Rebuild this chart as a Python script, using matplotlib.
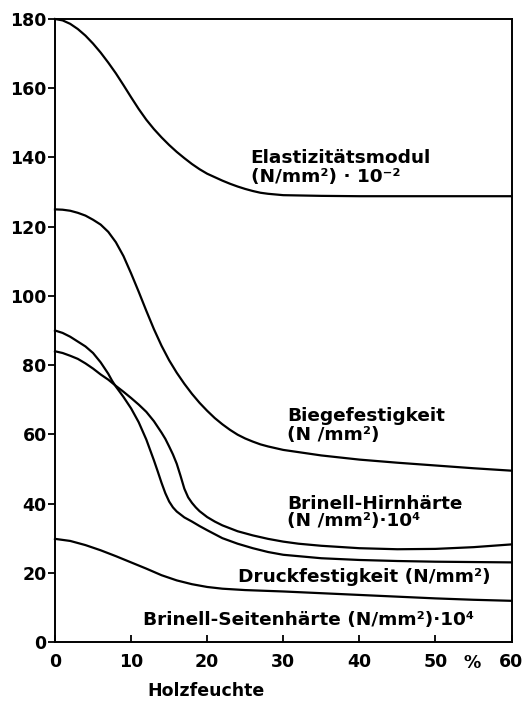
import matplotlib
matplotlib.use("Agg")
import matplotlib.pyplot as plt

# ---- data ----
elast_x = [0, 1, 2, 3, 4, 5, 6, 7, 8, 9, 10, 11, 12, 13, 14, 15, 16, 17, 18, 19, 20, 21, 22,
           23, 24, 25, 26, 27, 28, 30, 35, 40, 60]
elast_y = [180, 179.6, 178.6, 177.1, 175.2, 172.9, 170.3, 167.4, 164.3, 160.9, 157.4, 154,
           150.9, 148.2, 145.8, 143.6, 141.6, 139.8, 138.1, 136.6, 135.3, 134.3, 133.3,
           132.4, 131.6, 130.9, 130.3, 129.8, 129.5, 129.1, 128.9, 128.8, 128.8]

biege_x = [0, 1, 2, 3, 4, 5, 6, 7, 8, 9, 10, 11, 12, 13, 14, 15, 16, 17, 18, 19, 20, 21, 22,
           23, 24, 25, 26, 27, 28, 29, 30, 35, 40, 45, 50, 55, 60]
biege_y = [125, 124.9, 124.6, 124, 123.2, 122, 120.6, 118.5, 115.5, 111.5, 106.5, 101.2, 95.7,
           90.4, 85.6, 81.4, 77.8, 74.6, 71.7, 69.1, 66.8, 64.7, 62.9, 61.3, 59.9, 58.8, 57.9,
           57.1, 56.5, 56, 55.5, 53.9, 52.7, 51.8, 51, 50.2, 49.5]

hirn_x = [0, 1, 2, 3, 4, 5, 6, 7, 8, 9, 10, 11, 12, 13, 14, 14.5, 15, 15.5, 16, 16.5, 17,
          17.5, 18, 18.5, 19, 20, 21, 22, 24, 26, 28, 30, 32, 35, 40, 45, 50, 55, 60]
hirn_y = [84, 83.5, 82.7, 81.8, 80.5, 79, 77.3, 75.8, 74, 72.3, 70.5, 68.6, 66.5, 63.8, 60.5,
          58.7, 56.5, 54.2, 51.5, 48, 44.3, 41.8, 40.2, 38.9, 37.8, 36.1, 34.8, 33.7, 32,
          30.8, 29.8, 29, 28.4, 27.8, 27.1, 26.8, 26.9, 27.4, 28.2]

druck_x = [0, 1, 2, 3, 4, 5, 6, 7, 7.5, 8, 9, 10, 11, 12, 13, 13.5, 14, 14.5, 15, 15.5, 16,
           17, 18, 19, 20, 22, 24, 26, 28, 30, 35, 40, 45, 50, 55, 60]
druck_y = [90, 89.3, 88.2, 86.8, 85.4, 83.5, 80.8, 77.5, 75.5, 73.8, 70.8, 67.5, 63.5, 58.5,
           52.5, 49.3, 46, 43, 40.6, 38.9, 37.7, 36, 34.8, 33.5, 32.3, 30, 28.4, 27.1, 26,
           25.2, 24.2, 23.7, 23.4, 23.2, 23.1, 23]

seiten_x = [0, 2, 4, 6, 8, 10, 12, 14, 16, 18, 20, 22, 25, 30, 35, 40, 45, 50, 55, 60]
seiten_y = [29.8, 29.2, 28, 26.5, 24.8, 23, 21.2, 19.3, 17.8, 16.7, 15.9, 15.4, 15, 14.6,
            14.1, 13.6, 13.1, 12.6, 12.2, 11.9]

x_ticks = [0, 10, 20, 30, 40, 50, 60]
y_ticks = [0, 20, 40, 60, 80, 100, 120, 140, 160, 180]

fig = plt.figure(figsize=(5.28, 7.02), dpi=100)
ax = fig.add_axes([55 / 528, 1 - 642 / 702, 456.5 / 528, 623 / 702])

lw = 1.6
for xs, ys in [(elast_x, elast_y), (biege_x, biege_y), (hirn_x, hirn_y),
               (druck_x, druck_y), (seiten_x, seiten_y)]:
    ax.plot(xs, ys, color="black", lw=lw, solid_joinstyle="round", clip_on=False)

ax.set_xlim(0, 60)
ax.set_ylim(0, 180)
ax.set_xticks(x_ticks)
ax.set_yticks(y_ticks)
ax.set_xticklabels([str(v) for v in x_ticks], fontsize=12.5, fontweight="bold")
ax.set_yticklabels([str(v) for v in y_ticks], fontsize=12.5, fontweight="bold")
ax.tick_params(axis="x", direction="in", length=5, width=1.3, pad=8)
ax.tick_params(axis="y", direction="out", length=5, width=1.3, pad=1)
for s in ax.spines.values():
    s.set_linewidth(1.4)

tk = dict(fontsize=13.3, fontweight="bold", color="black", ha="left", va="baseline")
ax.text(25.7, 138.4, "Elastizitätsmodul", **tk)
ax.text(25.7, 133.0, "(N/mm²) · 10⁻²", **tk)
ax.text(30.5, 63.8, "Biegefestigkeit", **tk)
ax.text(30.5, 58.3, "(N /mm²)", **tk)
ax.text(30.5, 38.4, "Brinell-Hirnhärte", **tk)
ax.text(30.5, 33.4, "(N /mm²)·10⁴", **tk)
ax.text(24.1, 17.3, "Druckfestigkeit (N/mm²)", **tk)
ax.text(11.6, 5.0, "Brinell-Seitenhärte (N/mm²)·10⁴", **tk)

fig.text(472 / 528, 1 - 663 / 702, "%", fontsize=12.5, fontweight="bold",
         ha="center", va="center")
fig.text(147 / 528, 1 - 696 / 702, "Holzfeuchte", fontsize=12.5, fontweight="bold",
         ha="left", va="baseline")

fig.savefig("out.png", dpi=100, facecolor="white")
